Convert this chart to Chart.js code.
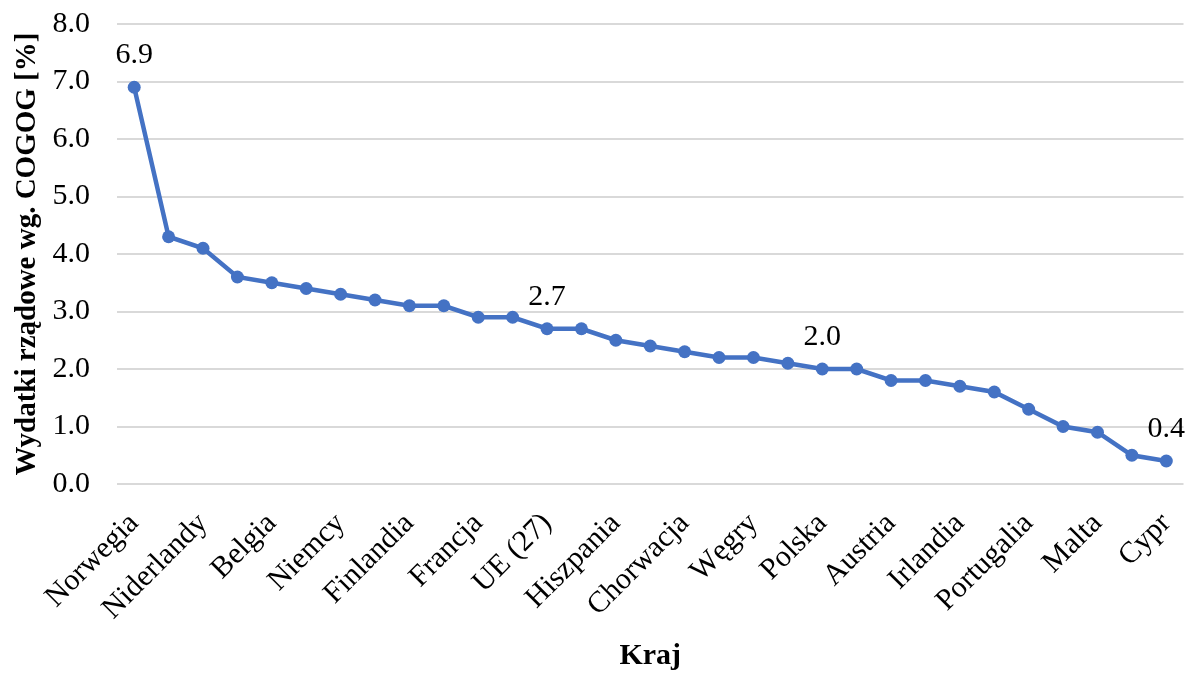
<!DOCTYPE html>
<html lang="pl">
<head>
<meta charset="utf-8">
<script src="https://cdn.jsdelivr.net/npm/chart.js@4/dist/chart.umd.min.js"></script>
<style>
  html, body { margin: 0; padding: 0; background: #ffffff; }
  #wrap { width: 1190px; height: 674px; position: relative; }
</style>
</head>
<body>
<div id="wrap"><canvas id="c" width="1190" height="674"></canvas></div>
<script>
// Kraje w kolejności malejących wydatków
const countries = [
  'Norwegia', 'Szwecja', 'Niderlandy', 'Dania', 'Belgia', 'Luksemburg',
  'Niemcy', 'Islandia', 'Finlandia', 'Estonia', 'Francja', 'Słowenia',
  'UE (27)', 'Czechy', 'Hiszpania', 'Szwajcaria', 'Chorwacja', 'Litwa',
  'Węgry', 'Łotwa', 'Polska', 'Słowacja', 'Austria', 'Włochy',
  'Irlandia', 'Bułgaria', 'Portugalia', 'Rumunia', 'Malta', 'Grecja', 'Cypr'
];

// Wydatki rządowe [%]
const spending = [
  6.9, 4.3, 4.1, 3.6, 3.5, 3.4, 3.3, 3.2, 3.1, 3.1, 2.9, 2.9, 2.7, 2.7, 2.5, 2.4,
  2.3, 2.2, 2.2, 2.1, 2.0, 2.0, 1.8, 1.8, 1.7, 1.6, 1.3, 1.0, 0.9, 0.5, 0.4
];

// Punkty opisane wartością
const labelledPoints = ['Norwegia', 'UE (27)', 'Polska', 'Cypr'];

const yTicks = { min: 0, max: 8, step: 1 };

const serif = '"Liberation Serif", "Times New Roman", serif';
const FONT = 30;

const valueLabels = {
  id: 'valueLabels',
  afterDatasetsDraw(chart) {
    const ctx = chart.ctx;
    const meta = chart.getDatasetMeta(0);
    ctx.save();
    ctx.font = FONT + 'px ' + serif;
    ctx.fillStyle = '#000000';
    ctx.textAlign = 'center';
    ctx.textBaseline = 'alphabetic';
    labelledPoints.forEach(name => {
      const i = countries.indexOf(name);
      const pt = meta.data[i];
      ctx.fillText(spending[i].toFixed(1), pt.x, pt.y - 24);
    });
    ctx.restore();
  }
};

new Chart(document.getElementById('c'), {
  type: 'line',
  data: {
    labels: countries,
    datasets: [{
      data: spending,
      borderColor: '#4472C4',
      backgroundColor: '#4472C4',
      borderWidth: 4.5,
      pointRadius: 6.5,
      pointHoverRadius: 6.5,
      pointBorderWidth: 0,
      tension: 0,
      fill: false
    }]
  },
  options: {
    responsive: false,
    animation: false,
    layout: { padding: { left: 10, right: 4, top: 24, bottom: 0 } },
    plugins: {
      legend: { display: false },
      tooltip: { enabled: false }
    },
    scales: {
      x: {
        type: 'category',
        offset: true,
        grid: { display: false, drawTicks: false },
        border: { display: false },
        ticks: {
          autoSkip: false,
          minRotation: 45,
          maxRotation: 45,
          padding: 22,
          color: '#000000',
          font: { family: serif, size: FONT },
          callback: function (value, index) {
            return index % 2 === 0 ? this.getLabelForValue(value) : '';
          }
        },
        title: {
          display: true,
          text: 'Kraj',
          color: '#000000',
          font: { family: serif, size: FONT, weight: 'bold' },
          padding: { top: 0, bottom: 0 }
        },
        afterFit(scale) {
          scale.height = 190;
          scale.paddingLeft = 0;
          scale.paddingRight = 0;
        }
      },
      y: {
        min: yTicks.min,
        max: yTicks.max,
        grid: { color: '#d9d9d9', lineWidth: 2, drawTicks: false },
        border: { display: false },
        ticks: {
          stepSize: yTicks.step,
          padding: 27,
          color: '#000000',
          font: { family: serif, size: FONT },
          callback: v => Number(v).toFixed(1)
        },
        title: {
          display: true,
          text: 'Wydatki rządowe wg. COGOG [%]',
          color: '#000000',
          font: { family: serif, size: 29, weight: 'bold' },
          padding: { top: 0, bottom: 0 }
        },
        afterFit(scale) {
          scale.width = 107;
          scale.paddingTop = 0;
          scale.paddingBottom = 0;
        }
      }
    }
  },
  plugins: [valueLabels]
});
</script>
</body>
</html>
